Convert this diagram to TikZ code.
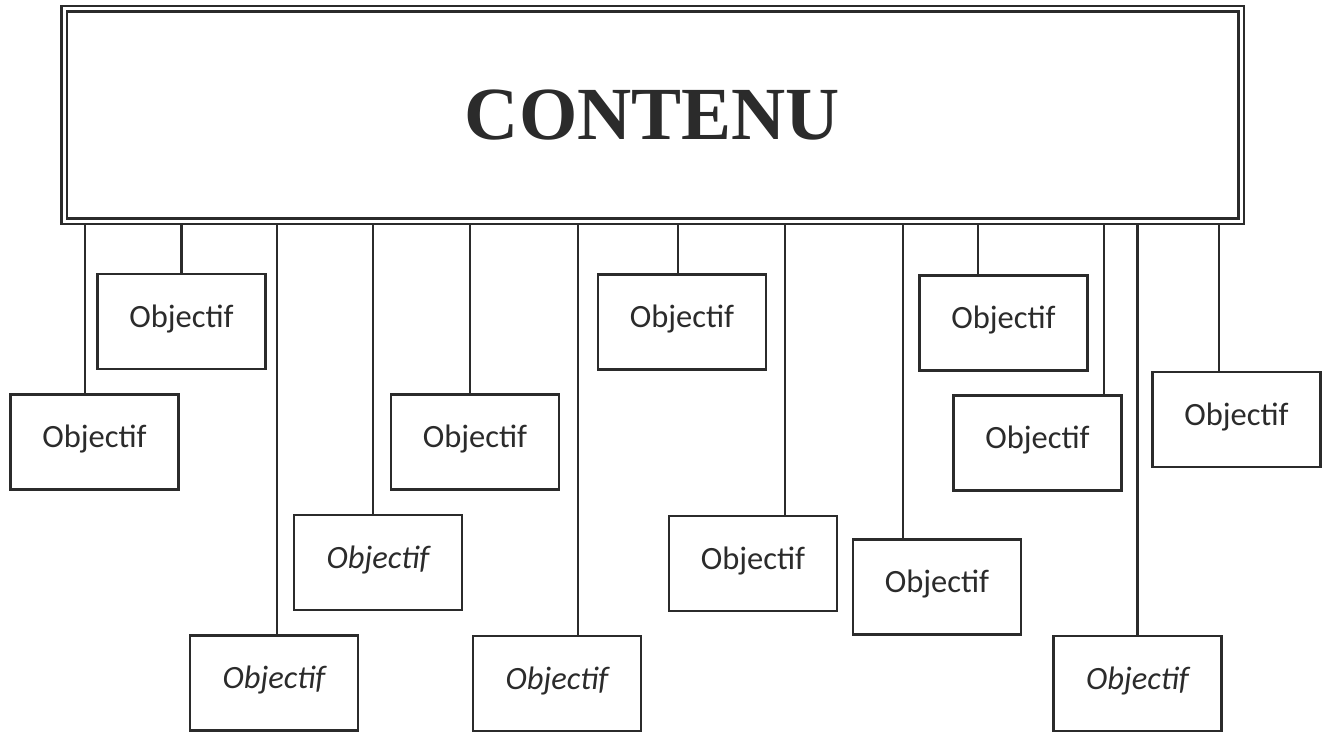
\documentclass[tikz,border=0pt]{standalone}
\usepackage{fontspec}
\setmainfont{Liberation Serif}
\newfontfamily\objfont{Carlito}
\usetikzlibrary{positioning}
\definecolor{ink}{HTML}{2B2B2B}

\begin{document}
\begin{tikzpicture}[x=1pt,y=-1pt,
    titlebox/.style={draw=ink,double=white,line width=2.6pt,double distance=3pt,minimum width=1177pt,minimum height=212pt,inner sep=0pt,outer sep=4pt,text=ink,font=\fontsize{75}{80}\selectfont\bfseries},
    objbox/.style={draw=ink,line width=2.4pt,minimum width=168pt,minimum height=95pt,inner sep=0pt,text=ink,text depth=11pt,font=\objfont\fontsize{32.5}{36}\selectfont},
    objit/.style={objbox,font=\objfont\itshape\fontsize{32.5}{36}\selectfont},
    link/.style={draw=ink,line width=2.1pt}
]
\useasboundingbox (0,0) rectangle (1329,733);
\node[titlebox] (contenu) at (652.5,115) {\raisebox{-2pt}{CONTENU}};
% first row
\node[objbox] (a) at (181.5,321.5) {Objectif};
\node[objbox] (g) at (682,322) {Objectif};
\node[objbox] (j) at (1003.5,323) {Objectif};
% second row
\node[objbox] (b) at (94.5,442) {Objectif};
\node[objbox] (e) at (475,442) {Objectif};
\node[objbox] (k) at (1037.5,443) {Objectif};
\node[objbox] (l) at (1236.5,419.5) {Objectif};
% third row
\node[objit] (c) at (378,562.5) {Objectif};
\node[objbox] (h) at (753,563.5) {Objectif};
\node[objbox] (i) at (937,587) {Objectif};
% bottom row
\node[objit] (d) at (274,683) {Objectif};
\node[objit] (f) at (557,683.5) {Objectif};
\node[objit] (m) at (1137.5,683.5) {Objectif};
% links to the title
\draw[link] ([xshift=-9.5pt]b.north) -- ([xshift=-9.5pt]b.north |- contenu.south);
\draw[link] (a.north) -- (a.north |- contenu.south);
\draw[link] ([xshift=3pt]d.north) -- ([xshift=3pt]d.north |- contenu.south);
\draw[link] ([xshift=-5pt]c.north) -- ([xshift=-5pt]c.north |- contenu.south);
\draw[link] ([xshift=-5pt]e.north) -- ([xshift=-5pt]e.north |- contenu.south);
\draw[link] ([xshift=21pt]f.north) -- ([xshift=21pt]f.north |- contenu.south);
\draw[link] ([xshift=-4pt]g.north) -- ([xshift=-4pt]g.north |- contenu.south);
\draw[link] ([xshift=32pt]h.north) -- ([xshift=32pt]h.north |- contenu.south);
\draw[link] ([xshift=-34pt]i.north) -- ([xshift=-34pt]i.north |- contenu.south);
\draw[link] ([xshift=-25.5pt]j.north) -- ([xshift=-25.5pt]j.north |- contenu.south);
\draw[link] ([xshift=66.5pt]k.north) -- ([xshift=66.5pt]k.north |- contenu.south);
\draw[link] (m.north) -- (m.north |- contenu.south);
\draw[link] ([xshift=-17.5pt]l.north) -- ([xshift=-17.5pt]l.north |- contenu.south);
\end{tikzpicture}
\end{document}
